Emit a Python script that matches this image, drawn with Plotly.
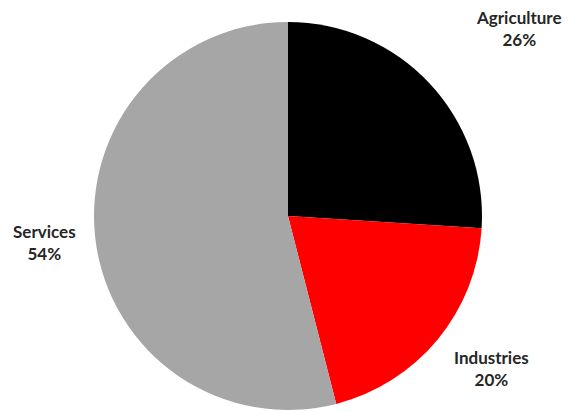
import plotly.graph_objects as go

categories = ["Agriculture", "Industries", "Services"]
shares = [26, 20, 54]
colors = ["#000000", "#FF0000", "#A6A6A6"]

W, H = 578, 412
cx, cy, r = 288, 216, 194

fig = go.Figure(go.Pie(
    labels=categories,
    values=shares,
    sort=False,
    direction="clockwise",
    rotation=0,
    marker=dict(colors=colors, line=dict(width=0)),
    textinfo="none",
    hoverinfo="label+percent",
    showlegend=False,
    domain=dict(x=[(cx - r) / W, (cx + r) / W], y=[1 - (cy + r) / H, 1 - (cy - r) / H]),
))

# label block centre (pixels from top-left)
label_pos = {"Agriculture": (519, 28.5), "Industries": (491, 368), "Services": (44, 243)}
total = sum(shares)
font = dict(family="Lato", size=17, color="#262626", weight="bold")
for cat, v in zip(categories, shares):
    px, py = label_pos[cat]
    fig.add_annotation(
        x=px / W, y=1 - py / H, xref="paper", yref="paper",
        xanchor="center", yanchor="middle",
        text=f"{cat}<br>{round(100 * v / total)}%",
        showarrow=False, align="center", font=font, borderpad=0,
    )

fig.update_layout(
    width=W, height=H,
    margin=dict(l=0, r=0, t=0, b=0),
    paper_bgcolor="#FFFFFF", plot_bgcolor="#FFFFFF",
)
fig.write_html("out.html", config={"displayModeBar": False},
               post_script="document.body.style.margin='0px';")
